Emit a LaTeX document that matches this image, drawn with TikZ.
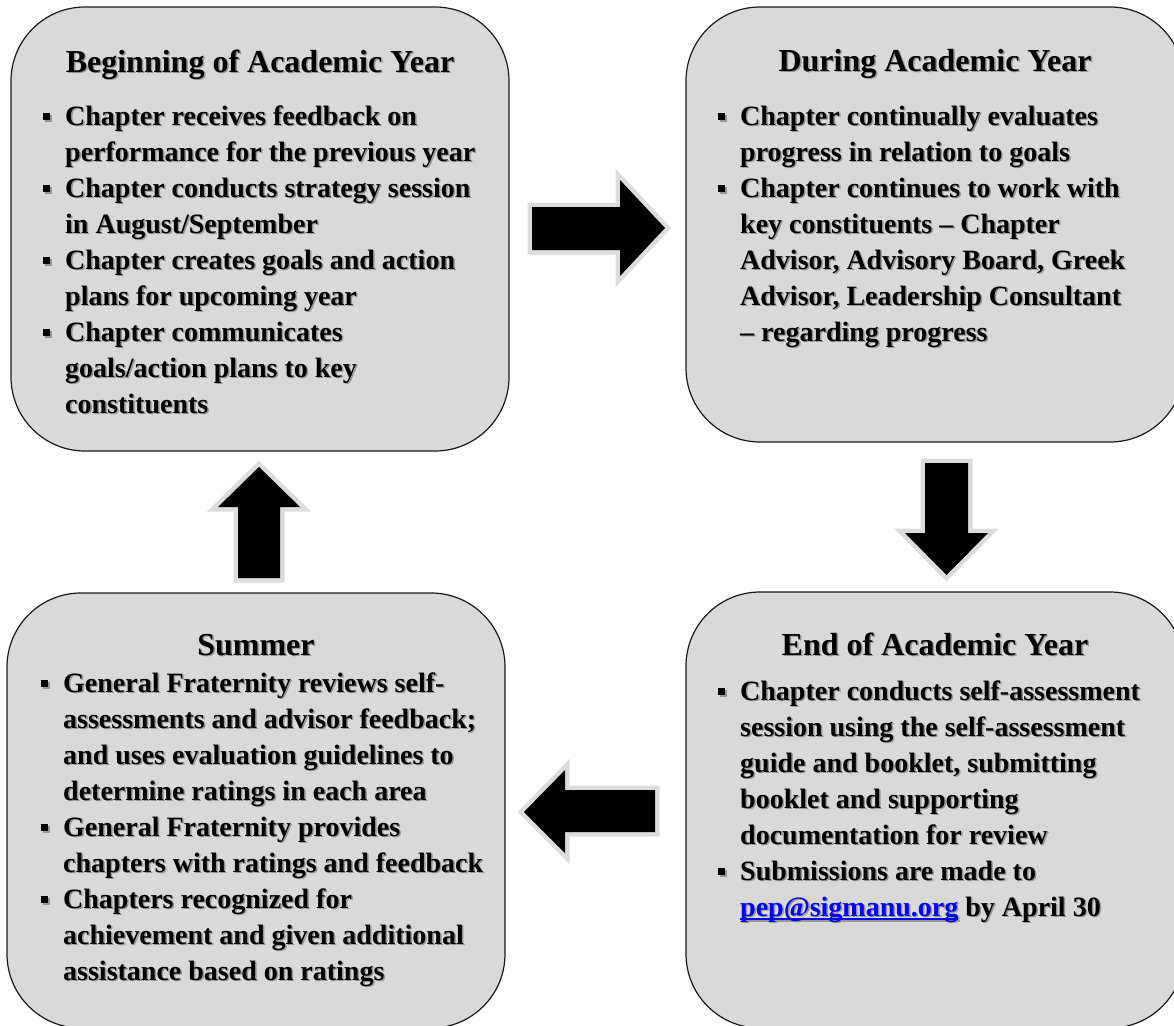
\documentclass[tikz,border=0pt]{standalone}
\usepackage{fontspec}
\setmainfont{Liberation Serif}[Ligatures={TeX,CommonOff}]
\definecolor{boxfill}{RGB}{217,217,217}
\definecolor{boxline}{RGB}{25,25,25}
\definecolor{arrowedge}{RGB}{220,220,220}
\definecolor{shadowtxt}{RGB}{150,150,150}
\definecolor{linkblue}{RGB}{0,0,255}
\newcommand\lkcolor{linkblue}
\newcommand\bul{\leavevmode\llap{\raisebox{5pt}{\rule{7pt}{7pt}}\hspace{15pt}}}
\newsavebox\ulbox
\newcommand\myul[1]{\sbox\ulbox{#1}\mbox{\rlap{\rule[-4pt]{\wd\ulbox}{2pt}}\usebox\ulbox}}
\newcommand\bodytext[1]{\begin{minipage}[t]{480pt}\fontsize{28}{36}\selectfont\bfseries\raggedright #1\end{minipage}}
\newcommand\dtext[4]{\node[#2,shadowed] (#1s) at #3 {#4}; \node[#2] (#1) at #3 {#4};}
\begin{document}
\begin{tikzpicture}[x=1pt,y=-1pt,
  box/.style={draw=boxline, line width=1.2pt, fill=boxfill, rounded corners=74pt, rectangle, inner sep=0pt, minimum width=498pt},
  ttl/.style={anchor=base, inner sep=0pt, font=\fontsize{32}{38}\selectfont\bfseries},
  body/.style={anchor=base west, inner sep=0pt},
  shadowed/.style={text=shadowtxt, xshift=1.5pt, yshift=-1.5pt, execute at begin node=\def\lkcolor{shadowtxt}},
  blockarrow/.style={fill=black, preaction={draw=arrowedge, line width=9pt, line join=miter}}]
\useasboundingbox (0,0) rectangle (1174,1025);
\node[box, minimum height=444pt] (b1) at (260,229) {};
\node[box, minimum height=435pt] (b2) at (935,224.5) {};
\node[box, minimum height=435pt] (b3) at (256,810.5) {};
\node[box, minimum height=436pt] (b4) at (935,810) {};
% arrows
\path[blockarrow] (532,207) -- (620,207) -- (620,180) -- (665,228) -- (620,276) -- (620,250) -- (532,250) -- cycle;
\path[blockarrow] (925,463) -- (968,463) -- (968,533) -- (988,533) -- (946.5,575) -- (905,533) -- (925,533) -- cycle;
\path[blockarrow] (259,467) -- (300,507) -- (280,507) -- (280,578) -- (238,578) -- (238,507) -- (218,507) -- cycle;
\path[blockarrow] (524,812) -- (565,770) -- (565,790) -- (655,790) -- (655,832) -- (565,832) -- (565,853) -- cycle;
% texts
\dtext{t1}{ttl}{(260,72)}{Beginning of Academic Year}
\dtext{t2}{ttl}{(935,71)}{During Academic Year}
\dtext{t3}{ttl}{(256,655)}{Summer}
\dtext{t4}{ttl}{(935,655)}{End of Academic Year}
\dtext{l1}{body}{(65,125)}{\bodytext{\noindent\bul Chapter receives feedback on\\
performance for the previous year\\
\bul Chapter conducts strategy session\\
in August/September\\
\bul Chapter creates goals and action\\
plans for upcoming year\\
\bul Chapter communicates\\
goals/action plans to key\\
constituents}}
\dtext{l2}{body}{(740,125)}{\bodytext{\noindent\bul Chapter continually evaluates\\
progress in relation to goals\\
\bul Chapter continues to work with\\
key constituents – Chapter\\
Advisor, Advisory Board, Greek\\
Advisor, Leadership Consultant\\
– regarding progress}}
\dtext{l3}{body}{(63,692)}{\bodytext{\noindent\bul General Fraternity reviews self-\\
assessments and advisor feedback;\\
and uses evaluation guidelines to\\
determine ratings in each area\\
\bul General Fraternity provides\\
chapters with ratings and feedback\\
\bul Chapters recognized for\\
achievement and given additional\\
assistance based on ratings}}
\dtext{l4}{body}{(740,700)}{\bodytext{\noindent\bul Chapter conducts self-assessment\\
session using the self-assessment\\
guide and booklet, submitting\\
booklet and supporting\\
documentation for review\\
\bul Submissions are made to\\
\mbox{{\color{\lkcolor}\myul{pep@sigmanu.org}} by April 30}}}
\end{tikzpicture}
\end{document}
